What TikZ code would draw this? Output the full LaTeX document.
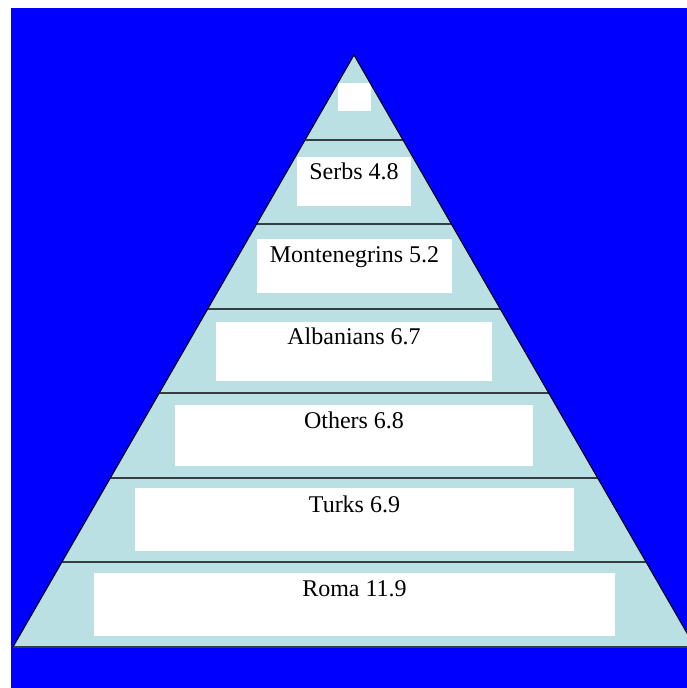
\documentclass[tikz,border=0pt]{standalone}
\usepackage{fontspec}
\setmainfont{Liberation Serif}
\usetikzlibrary{calc}
\definecolor{bgblue}{RGB}{0,0,255}
\definecolor{pyrfill}{RGB}{187,224,227}
\definecolor{divline}{RGB}{50,62,68}
\tikzset{
  wbox/.style={fill=white, draw=none, inner sep=0pt, anchor=north},
  lbl/.style={anchor=base, inner sep=0pt, font=\fontsize{24}{28}\selectfont, text=black},
  divider/.style={draw=divline, line width=2pt},
}
\begin{document}
\begin{tikzpicture}[x=1pt,y=-1pt]
\useasboundingbox (0,0) rectangle (687,688);
\fill[white] (0,0) rectangle (687,688);
\fill[bgblue] (11,8) rectangle (687,688);
\coordinate (apex) at (354,55);
\coordinate (bl) at (13,647);
\coordinate (br) at (695,647);
\begin{scope}
\clip (11,8) rectangle (687,688);
\fill[pyrfill] (apex) -- (bl) -- (br) -- cycle;
% white boxes
\node[wbox, minimum width=33pt, minimum height=28pt] (b0) at (354.5,83) {};
\node[wbox, minimum width=114pt, minimum height=49pt] (b1) at (354,157) {};
\node[wbox, minimum width=195pt, minimum height=54pt] (b2) at (354.5,239) {};
\node[wbox, minimum width=276pt, minimum height=59pt] (b3) at (354,322) {};
\node[wbox, minimum width=358pt, minimum height=61pt] (b4) at (354,405) {};
\node[wbox, minimum width=439pt, minimum height=63pt] (b5) at (354.5,488) {};
\node[wbox, minimum width=521pt, minimum height=63pt] (b6) at (354.5,573) {};
% labels
\node[lbl] (t1) at ($(b1.north)+(0,22)$) {Serbs 4.8};
\node[lbl] (t2) at ($(b2.north)+(0,23)$) {Montenegrins 5.2};
\node[lbl] (t3) at ($(b3.north)+(0,22)$) {Albanians 6.7};
\node[lbl] (t4) at ($(b4.north)+(0,23)$) {Others 6.8};
\node[lbl] (t5) at ($(b5.north)+(0,24)$) {Turks 6.9};
\node[lbl] (t6) at ($(b6.north)+(0,23)$) {Roma 11.9};
% dividers
\foreach \k in {1,...,6}{
  \draw[divider] ($(apex)!\k/7!(bl)$) -- ($(apex)!\k/7!(br)$);
}
\draw[divider] (bl) -- (br);
\draw[black, line width=1pt, line join=miter] (bl) -- (apex) -- (br);
\end{scope}
\end{tikzpicture}
\end{document}
